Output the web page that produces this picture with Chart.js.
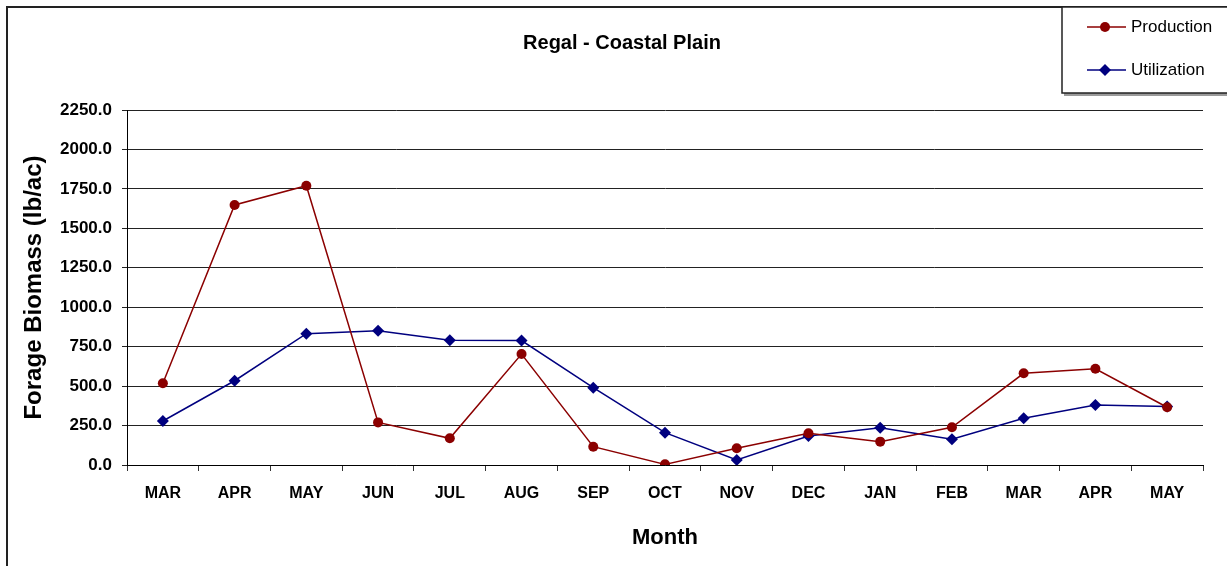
<!DOCTYPE html>
<html>
<head>
<meta charset="utf-8">
<script src="https://cdn.jsdelivr.net/npm/chart.js@4.4.1/dist/chart.umd.min.js"></script>
<style>
  html, body { margin: 0; padding: 0; background: #fff; }
  #wrap { width: 1227px; height: 566px; position: relative; }
</style>
</head>
<body>
<div id="wrap"><canvas id="biomassChart"></canvas></div>
<script>
const months = ['MAR', 'APR', 'MAY', 'JUN', 'JUL', 'AUG', 'SEP', 'OCT', 'NOV', 'DEC', 'JAN', 'FEB', 'MAR', 'APR', 'MAY'];
const production = [518, 1648, 1770, 270, 169, 703, 116, 4, 106, 201, 148, 239, 581, 610, 366];
const utilization = [279, 534, 832, 851, 790, 789, 490, 205, 32, 184, 236, 163, 296, 380, 370];
const yTicks = { min: 0, max: 2250, step: 250 };

const chartTitle = 'Regal - Coastal Plain';
const FONT = '"Liberation Sans", Arial, sans-serif';

// frame, title and the boxed legend in the top right corner
const decorPlugin = {
    id: 'decor',
    afterDraw: (chart) => {
        const ctx = chart.ctx;
        ctx.save();

        // outer frame (only left and top edges are visible)
        ctx.strokeStyle = '#222';
        ctx.lineWidth = 2;
        ctx.beginPath();
        ctx.moveTo(7, 566);
        ctx.lineTo(7, 7);
        ctx.lineTo(1227, 7);
        ctx.stroke();

        // title
        ctx.fillStyle = '#000';
        ctx.font = `bold 20px ${FONT}`;
        ctx.textAlign = 'center';
        ctx.textBaseline = 'middle';
        ctx.fillText(chartTitle, 622, 43);

        // legend box with a little shadow
        ctx.fillStyle = '#9a9a9a';
        ctx.fillRect(1064, 9, 170, 87);
        ctx.fillStyle = '#fff';
        ctx.fillRect(1062, 7, 170, 86);
        ctx.strokeStyle = '#222';
        ctx.lineWidth = 1.5;
        ctx.strokeRect(1062, 7, 170, 86);

        const rows = [27, 70];
        chart.data.datasets.forEach((ds, i) => {
            const y = rows[i];
            ctx.strokeStyle = ds.borderColor;
            ctx.lineWidth = 1.5;
            ctx.beginPath();
            ctx.moveTo(1087, y);
            ctx.lineTo(1126, y);
            ctx.stroke();
            ctx.fillStyle = ds.pointBackgroundColor;
            ctx.strokeStyle = ds.pointBackgroundColor;
            Chart.helpers.drawPoint(ctx, {
                pointStyle: ds.pointStyle,
                radius: ds.pointRadius,
                borderWidth: 0,
                rotation: 0
            }, 1105, y);
            ctx.fillStyle = '#000';
            ctx.font = `17px ${FONT}`;
            ctx.textAlign = 'left';
            ctx.textBaseline = 'middle';
            ctx.fillText(ds.label, 1131, y);
        });

        ctx.restore();
    }
};

const ctx = document.getElementById('biomassChart').getContext('2d');
window.biomassChart = new Chart(ctx, {
    type: 'line',
    data: {
        labels: months,
        datasets: [
            {
                label: 'Production',
                data: production,
                borderColor: '#8b0000',
                backgroundColor: '#8b0000',
                pointBackgroundColor: '#8b0000',
                pointBorderColor: '#8b0000',
                pointStyle: 'circle',
                pointRadius: 5,
                pointBorderWidth: 0,
                borderWidth: 1.5,
                tension: 0,
            },
            {
                label: 'Utilization',
                data: utilization,
                borderColor: '#00007f',
                backgroundColor: '#00007f',
                pointBackgroundColor: '#00007f',
                pointBorderColor: '#00007f',
                pointStyle: 'rectRot',
                pointRadius: 6,
                pointBorderWidth: 0,
                borderWidth: 1.5,
                tension: 0,
            }
        ]
    },
    options: {
        responsive: true,
        maintainAspectRatio: false,
        animation: false,
        layout: { padding: { left: 0, right: 24, top: 110, bottom: 0 } },
        scales: {
            x: {
                type: 'category',
                offset: true,
                afterFit: (scale) => { scale.height = 101; },
                grid: { offset: true, drawOnChartArea: false, drawTicks: true, tickLength: 6, color: '#333', lineWidth: 1 },
                border: { display: true, color: '#000', width: 1 },
                ticks: { color: '#000', font: { family: FONT, size: 16, weight: 'bold' }, padding: 13, maxRotation: 0, autoSkip: false },
                title: { display: true, text: 'Month', color: '#000', font: { family: FONT, size: 22, weight: 'bold' }, padding: { top: 0, bottom: 15 } }
            },
            y: {
                min: yTicks.min,
                max: yTicks.max,
                afterFit: (scale) => { scale.width = 127; },
                grid: { color: '#222', lineWidth: 1, tickLength: 5, drawTicks: true },
                border: { display: true, color: '#000', width: 1 },
                ticks: {
                    stepSize: yTicks.step,
                    color: '#000',
                    font: { family: FONT, size: 17, weight: 'bold' },
                    padding: 10,
                    callback: (value) => Number(value).toFixed(1)
                },
                title: { display: true, text: 'Forage Biomass (lb/ac)', color: '#000', font: { family: FONT, size: 24, weight: 'bold' }, padding: { top: 20, bottom: 0 } }
            }
        },
        plugins: {
            legend: { display: false },
            title: { display: false },
            tooltip: { enabled: false }
        }
    },
    plugins: [decorPlugin]
});
</script>
</body>
</html>
